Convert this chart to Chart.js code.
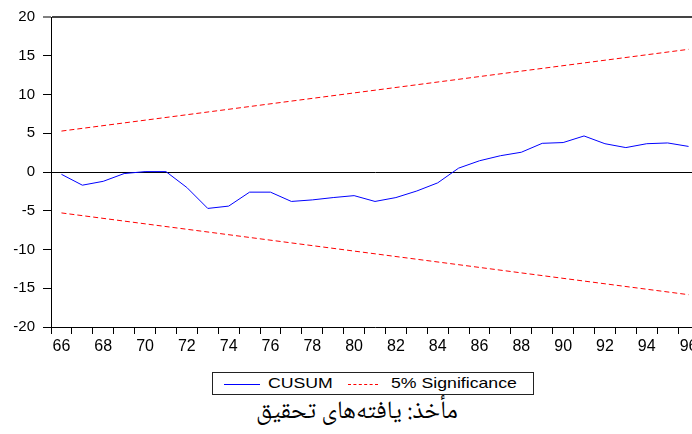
<!DOCTYPE html>
<html>
<head>
<meta charset="utf-8">
<script src="https://cdn.jsdelivr.net/npm/chart.js@4.4.1/dist/chart.umd.min.js"></script>
<style>
  body { margin: 0; width: 692px; height: 434px; overflow: hidden; background: #fff; position: relative; }
  #wrap { position: absolute; left: 0; top: 0; width: 702px; height: 352px; }
  #legenda { position: absolute; left: 212px; top: 372px; width: 320px; height: 21px; border: 1px solid #222;
             font: 14.5px "Liberation Sans", Arial, sans-serif; color: #000; }
  #legenda span { position: absolute; top: 2px; transform: scaleX(1.22); transform-origin: left center; }
  .amostra { position: absolute; top: 11px; height: 0; }
  #fonte { position: absolute; left: 0; width: 714px; top: 391px; text-align: center;
           font: 25px "Noto Naskh Arabic", "Noto Sans Arabic", "DejaVu Sans", sans-serif; color: #000; }
</style>
</head>
<body>
<div id="wrap"><canvas id="grafico"></canvas></div>
<div id="legenda">
  <div class="amostra" style="left:11px;width:36px;border-top:1px solid #0000ff"></div>
  <span style="left:55px">CUSUM</span>
  <div class="amostra" style="left:135px;width:30px;border-top:1px dashed #ff0000"></div>
  <span style="left:178px">5% Significance</span>
</div>
<div id="fonte" dir="rtl">مأخذ: یافته‌های تحقیق</div>
<script>
// anos das observacoes
const anos = [1966, 1967, 1968, 1969, 1970, 1971, 1972, 1973, 1974, 1975, 1976,
              1977, 1978, 1979, 1980, 1981, 1982, 1983, 1984, 1985, 1986,
              1987, 1988, 1989, 1990, 1991, 1992, 1993, 1994, 1995, 1996]

const cusum = [-0.3, -1.7, -1.2, -0.2, 0.05, 0.05, -2.0, -4.7, -4.4, -2.6, -2.6,
               -3.8, -3.6, -3.3, -3.05, -3.8, -3.3, -2.45, -1.4, 0.5, 1.45,
               2.1, 2.55, 3.7, 3.8, 4.65, 3.65, 3.15, 3.65, 3.75, 3.3]

// bandas de 5% (retas, so os extremos)
const limiteSup = [5.28, null, null, null, null, null, null, null, null, null, null,
                   null, null, null, null, null, null, null, null, null, null,
                   null, null, null, null, null, null, null, null, null, 15.83]
const limiteInf = [-5.28, null, null, null, null, null, null, null, null, null, null,
                   null, null, null, null, null, null, null, null, null, null,
                   null, null, null, null, null, null, null, null, null, -15.83]

const ticksY = [-20, -15, -10, -5, 0, 5, 10, 15, 20]

const config = {
    type: 'line',
    data: {
        labels: anos,
        datasets: [
            { label: 'CUSUM', data: cusum, borderColor: '#0000ff', borderWidth: 1, pointRadius: 0, tension: 0 },
            { label: 'Sup', data: limiteSup, borderColor: '#ff0000', borderWidth: 1, borderDash: [5, 3], pointRadius: 0, spanGaps: true },
            { label: 'Inf', data: limiteInf, borderColor: '#ff0000', borderWidth: 1, borderDash: [5, 3], pointRadius: 0, spanGaps: true }
        ]
    },
    options: {
        responsive: true,
        maintainAspectRatio: false,
        animation: false,
        layout: { padding: { top: 17, right: 3, left: 0, bottom: 0 } },
        plugins: { legend: { display: false }, tooltip: { enabled: false } },
        scales: {
            x: {
                offset: true,
                border: { display: true, color: '#000', width: 1 },
                grid: { offset: true, drawOnChartArea: false, tickLength: 7, tickColor: '#000', tickWidth: 1 },
                ticks: {
                    autoSkip: false, maxRotation: 0, padding: 3, color: '#000',
                    font: { family: '"Liberation Sans", Arial, sans-serif', size: 16 },
                    callback: function (valor, i) {
                        return i % 2 === 0 ? String(anos[i]).slice(2) : ''
                    }
                },
                afterFit: function (escala) { escala.height = 25 }
            },
            y: {
                min: -20,
                max: 20,
                afterBuildTicks: function (escala) { escala.ticks = ticksY.map(v => ({ value: v })) },
                border: { display: true, color: '#000', width: 1 },
                grid: {
                    color: function (ctx) {
                        if (ctx.tick.value === 0) return '#000'
                        if (ctx.tick.value === 20) return '#444'
                        return 'transparent'
                    },
                    lineWidth: function (ctx) { return ctx.tick.value === 20 ? 2 : 1 },
                    tickLength: 8, tickColor: '#000', tickWidth: 1
                },
                ticks: { padding: 8, color: '#000', font: { family: '"Liberation Sans", Arial, sans-serif', size: 15 } },
                afterFit: function (escala) { escala.width = 51 }
            }
        }
    }
}

const myChart = new Chart(document.getElementById('grafico'), config)
</script>
</body>
</html>
